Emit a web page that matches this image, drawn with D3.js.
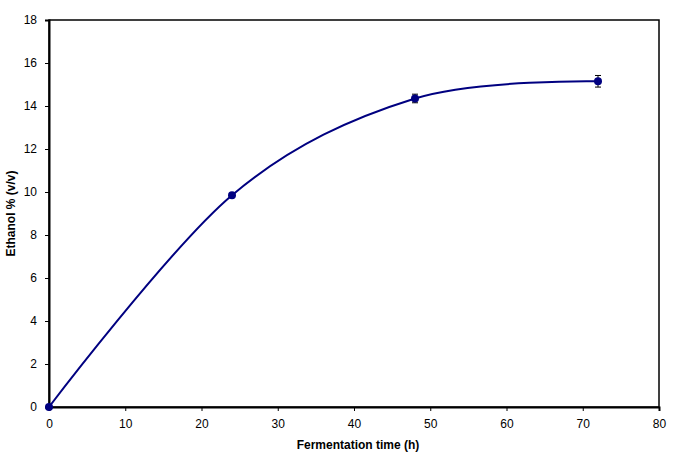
<!DOCTYPE html>
<html>
<head>
<meta charset="utf-8">
<script src="https://cdn.jsdelivr.net/npm/d3@7"></script>
<style>
body { margin: 0; background: #fff; }
text { font-family: "Liberation Sans", Arial, sans-serif; }
</style>
</head>
<body>
<div id="chart"></div>
<script>
// values
var hours = [0, 24, 48, 72];
var ethanol = [0, 9.85, 14.35, 15.15];
var errors = [0, 0.08, 0.2, 0.27];
var xTicks = [0, 10, 20, 30, 40, 50, 60, 70, 80];
var yTicks = [0, 2, 4, 6, 8, 10, 12, 14, 16, 18];

var data = hours.map(function (h, i) {
    return { x: h, y: ethanol[i], e: errors[i] };
});

var margin = { top: 20, right: 26, bottom: 50, left: 49 },
    width = 685 - margin.left - margin.right,
    height = 457 - margin.top - margin.bottom;

var svg = d3.select("#chart").append("svg")
    .attr("width", 685)
    .attr("height", 457)
    .append("g")
    .attr("transform", "translate(" + margin.left + "," + margin.top + ")");

var x = d3.scaleLinear().domain([0, 80]).range([0, width]);
var y = d3.scaleLinear().domain([0, 18]).range([height, 0]);

// frame
svg.append("rect")
    .attr("x", 0).attr("y", 0)
    .attr("width", width).attr("height", height)
    .attr("fill", "none")
    .attr("stroke", "#000")
    .attr("stroke-width", 1.5);

// x axis
var xAxis = svg.append("g")
    .attr("transform", "translate(0," + height + ")")
    .call(d3.axisBottom(x).tickValues(xTicks).tickSize(4).tickPadding(8));
xAxis.select(".domain").attr("stroke-width", 2);
xAxis.selectAll("text").attr("font-size", 12).attr("fill", "#000")
    .style("font-family", "'Liberation Sans', Arial, sans-serif");

// y axis
var yAxis = svg.append("g")
    .call(d3.axisLeft(y).tickValues(yTicks).tickSize(4).tickPadding(8));
yAxis.select(".domain").attr("stroke-width", 2);
yAxis.selectAll("text").attr("font-size", 12).attr("fill", "#000")
    .style("font-family", "'Liberation Sans', Arial, sans-serif");

// smoothed line
var line = d3.line()
    .x(function (d) { return x(d.x); })
    .y(function (d) { return y(d.y); })
    .curve(d3.curveCardinal.tension(0));

svg.append("path")
    .datum(data)
    .attr("d", line)
    .attr("fill", "none")
    .attr("stroke", "#000080")
    .attr("stroke-width", 2);

// error bars
var eb = svg.selectAll(".err")
    .data(data.filter(function (d) { return d.e > 0.1; }))
    .enter().append("g")
    .attr("class", "err");
eb.append("line")
    .attr("x1", function (d) { return x(d.x); })
    .attr("x2", function (d) { return x(d.x); })
    .attr("y1", function (d) { return y(d.y + d.e); })
    .attr("y2", function (d) { return y(d.y - d.e); })
    .attr("stroke", "#000").attr("stroke-width", 1);
eb.selectAll(".cap")
    .data(function (d) { return [d.y + d.e, d.y - d.e].map(function (v) { return { x: d.x, v: v }; }); })
    .enter().append("line")
    .attr("x1", function (d) { return x(d.x) - 3; })
    .attr("x2", function (d) { return x(d.x) + 3; })
    .attr("y1", function (d) { return y(d.v); })
    .attr("y2", function (d) { return y(d.v); })
    .attr("stroke", "#000").attr("stroke-width", 1);

// markers
svg.selectAll(".dot")
    .data(data)
    .enter().append("circle")
    .attr("class", "dot")
    .attr("cx", function (d) { return x(d.x); })
    .attr("cy", function (d) { return y(d.y); })
    .attr("r", 4)
    .attr("fill", "#000080");

// axis titles
svg.append("text")
    .attr("x", width / 2 + 4)
    .attr("y", height + 42)
    .attr("text-anchor", "middle")
    .attr("font-size", 12)
    .attr("font-weight", "bold")
    .text("Fermentation time (h)");

svg.append("text")
    .attr("transform", "translate(" + (-34) + "," + (height / 2) + ") rotate(-90)")
    .attr("text-anchor", "middle")
    .attr("font-size", 12)
    .attr("font-weight", "bold")
    .text("Ethanol % (v/v)");
</script>
</body>
</html>
